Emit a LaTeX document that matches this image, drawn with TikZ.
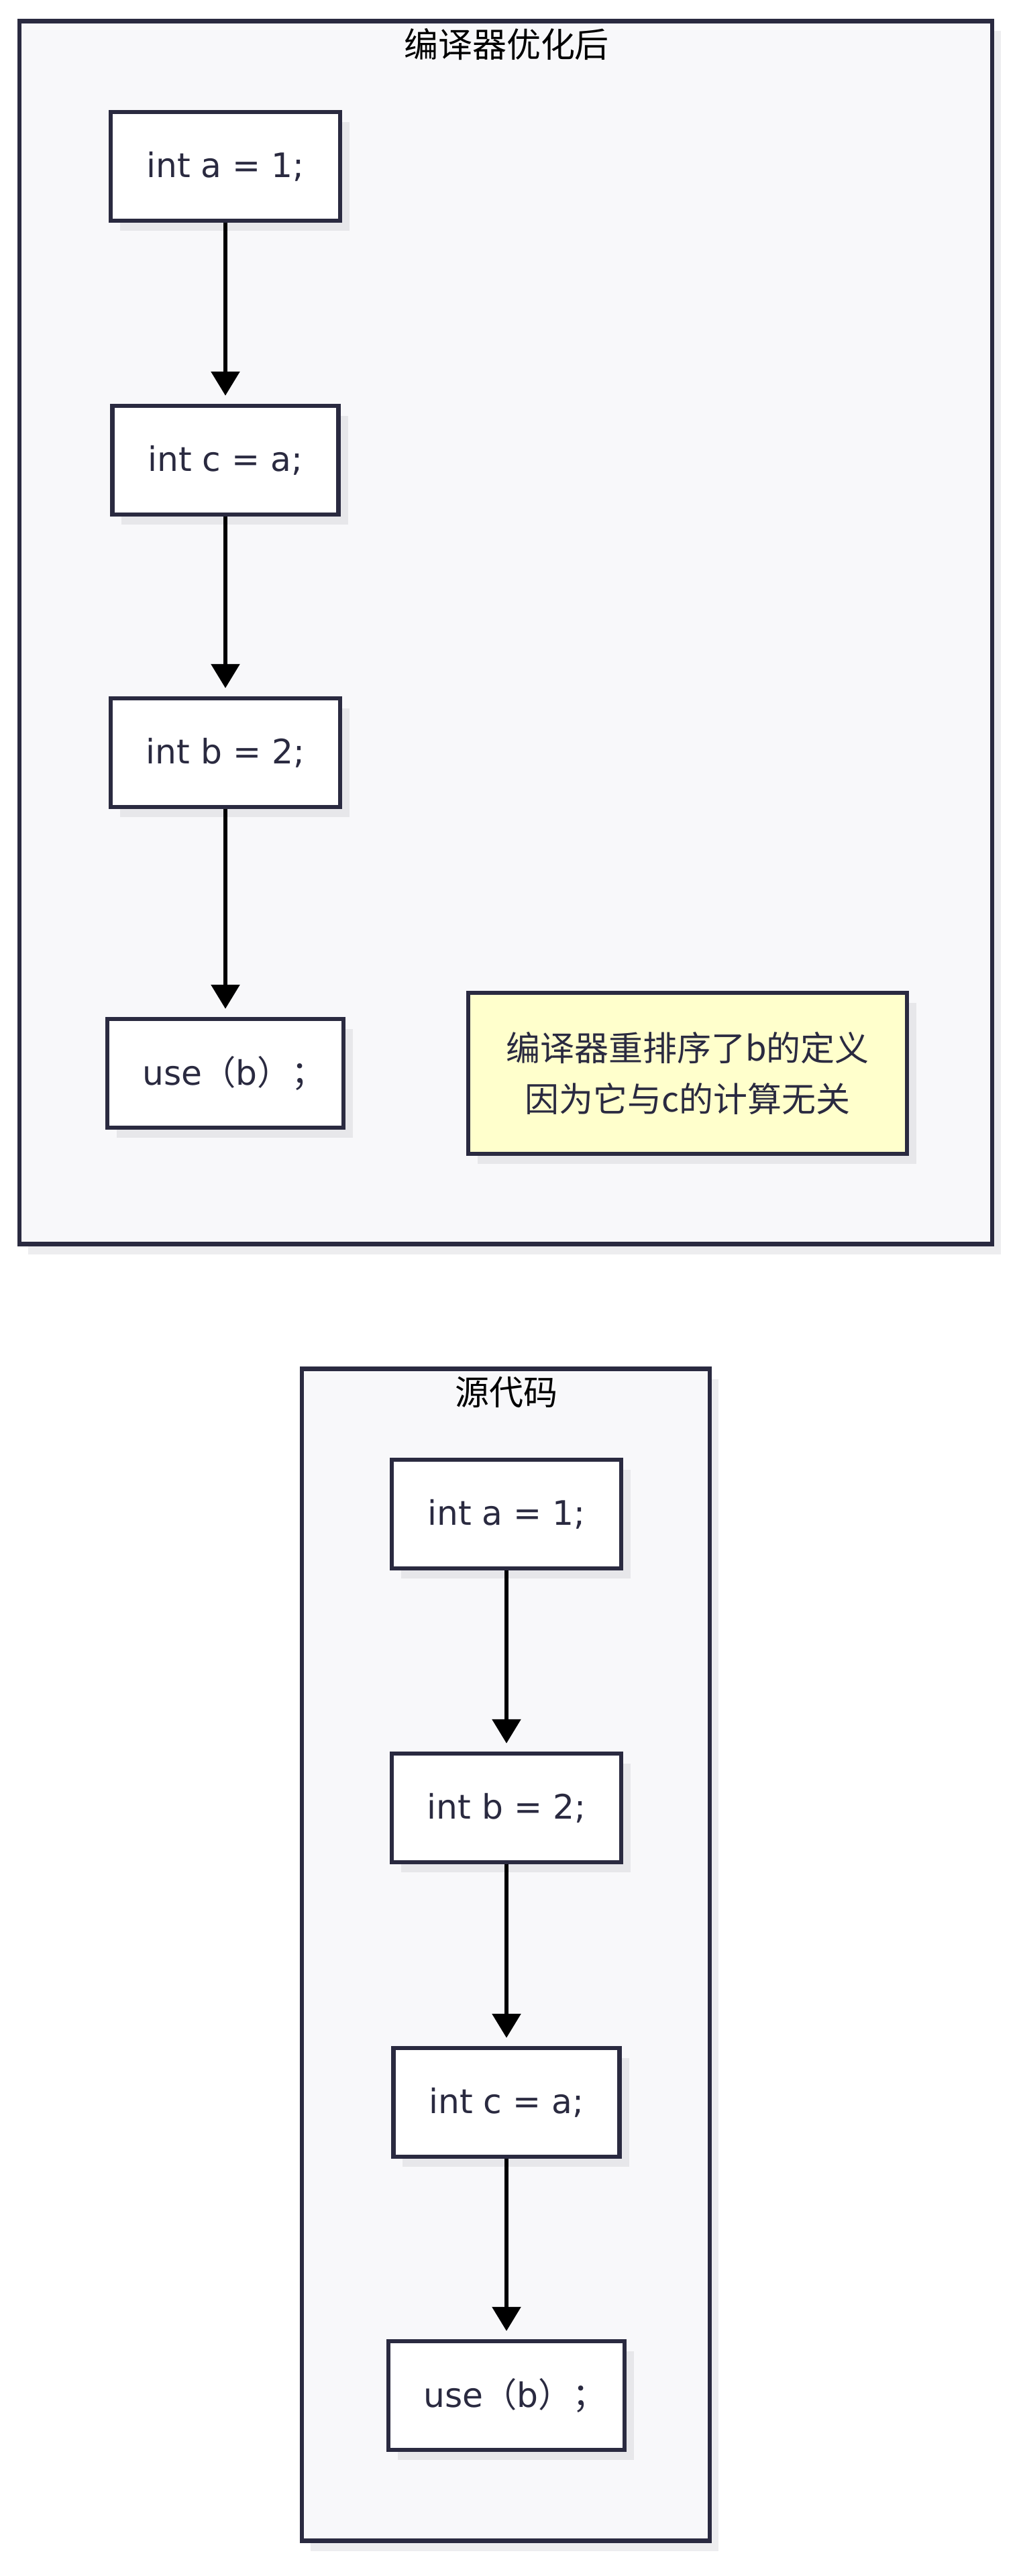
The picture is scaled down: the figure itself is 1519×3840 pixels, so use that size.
\documentclass[tikz,border=0pt]{standalone}
\usepackage{fontspec}
\setmainfont{DejaVu Sans}
\newfontfamily\cjk{Noto Sans CJK SC}
\usetikzlibrary{arrows.meta,shadows}

\definecolor{ink}{HTML}{2A2A40}
\definecolor{clusterbg}{HTML}{F8F8FA}
\definecolor{clustershade}{HTML}{EDEDEF}
\definecolor{nodeshade}{HTML}{E7E7EA}
\definecolor{memobg}{HTML}{FFFFCC}

\begin{document}
\begin{tikzpicture}[
  x=0.01cm, y=-0.01cm,
  every node/.style={font=\fontsize{14.3pt}{21.6pt}\selectfont, text=ink, inner sep=0pt},
  cluster/.style={draw=ink, line width=1.8pt, fill=clusterbg,
    drop shadow={shadow xshift=0.13cm, shadow yshift=-0.15cm, fill=clustershade, opacity=1}},
  grouptitle/.style={font=\cjk\fontsize{14.5pt}{21.6pt}\selectfont, text=black},
  stmt/.style={draw=ink, line width=1.8pt, fill=white, minimum width=3.42cm, minimum height=1.62cm,
    drop shadow={shadow xshift=0.14cm, shadow yshift=-0.15cm, fill=nodeshade, opacity=1}},
  memo/.style={stmt, fill=memobg, align=center, minimum width=6.53cm, minimum height=2.4cm,
    font=\cjk\fontsize{14.5pt}{21.6pt}\selectfont},
  flow/.style={-{Triangle[width=0.42cm, length=0.36cm]}, line width=1.7pt, black, shorten >=0.12cm}
]
  \fill[white] (0,0) rectangle (1519,3840);
  \useasboundingbox (0,0) rectangle (1519,3840);

  % Clusters
  \node[cluster, minimum width=14.49cm, minimum height=18.22cm] (opt) at (754, 943) {};
  \node[grouptitle] (optT) at (755, 66) {编译器优化后};
  \node[cluster, minimum width=6.07cm, minimum height=17.46cm] (src) at (754, 2914) {};
  \node[grouptitle] (srcT) at (755, 2075) {源代码};

  % After optimisation
  \node[stmt] (a1) at (336, 248) {int a = 1;};
  \node[stmt, minimum width=3.37cm] (c1) at (336, 686) {int c = a;};
  \node[stmt] (b1) at (336, 1122) {int b = 2;};
  \node[stmt, minimum width=3.52cm] (u1) at (336, 1600) {use{\cjk （}b{\cjk ）；}\kern-0.5em};
  \node[memo] (note) at (1025, 1600) {编译器重排序了b的定义\\因为它与c的计算无关};

  % Source code
  \node[stmt] (a2) at (755, 2257) {int a = 1;};
  \node[stmt] (b2) at (755, 2695) {int b = 2;};
  \node[stmt, minimum width=3.37cm] (c2) at (755, 3134) {int c = a;};
  \node[stmt, minimum width=3.52cm] (u2) at (755, 3571) {use{\cjk （}b{\cjk ）；}\kern-0.5em};

  % Edges
  \draw[flow] (a1) -- (c1);
  \draw[flow] (c1) -- (b1);
  \draw[flow] (b1) -- (u1);
  \draw[flow] (a2) -- (b2);
  \draw[flow] (b2) -- (c2);
  \draw[flow] (c2) -- (u2);
\end{tikzpicture}
\end{document}
